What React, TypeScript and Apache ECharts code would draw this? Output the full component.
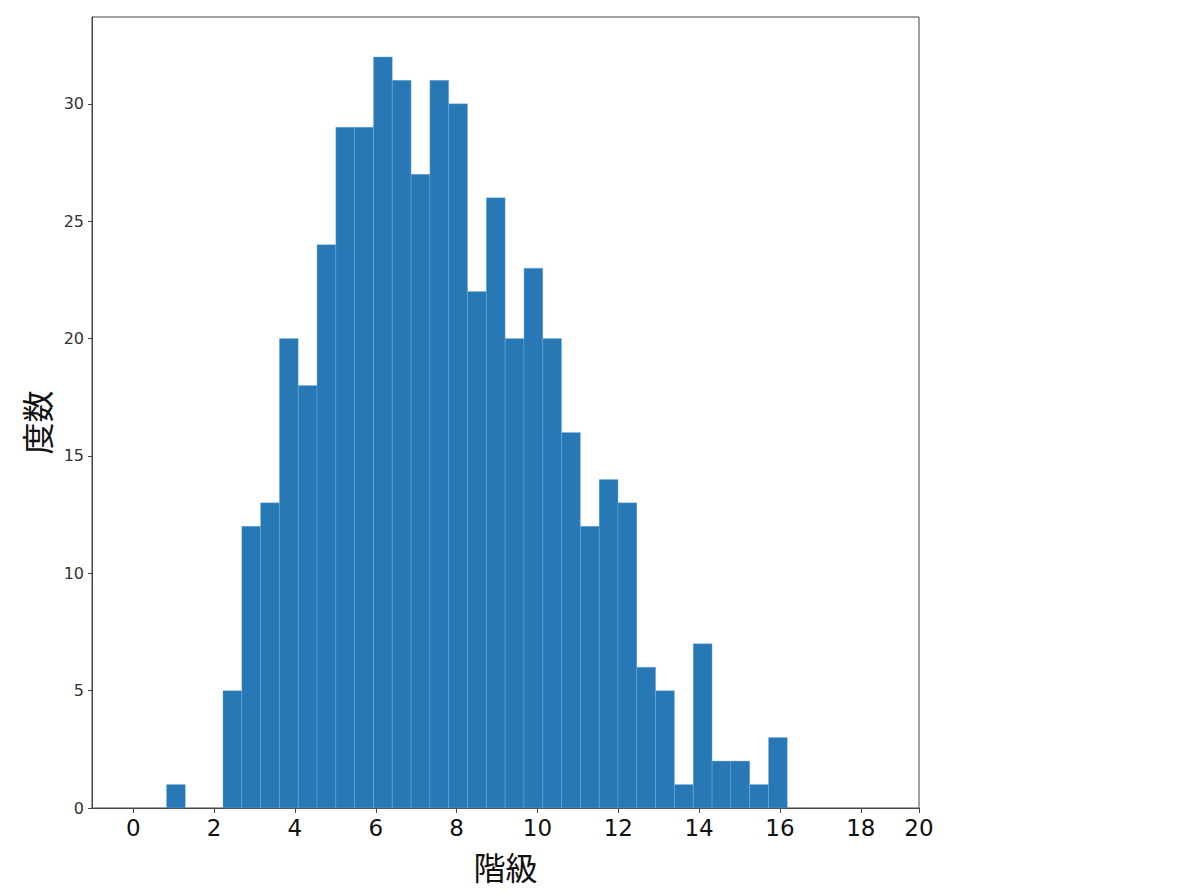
import React, { useEffect, useRef } from "react";
import * as echarts from "echarts";

// Histogram data: first bin left edge, bin width, and counts per bin
const binStart = 0.824;
const binWidth = 0.4654;
const counts = [
  1, 0, 0, 5, 12, 13, 20, 18, 24, 29, 29, 32, 31, 27, 31, 30, 22, 26, 20, 23,
  20, 16, 12, 14, 13, 6, 5, 1, 7, 2, 2, 1, 3,
];
const xTicks = [0, 2, 4, 6, 8, 10, 12, 14, 16, 18];
const xMin = -1.02;
const xMax = 19.44;
const xMaxLabel = "20";
const yTicks = [0, 5, 10, 15, 20, 25, 30];
const yMax = 33.7;
const xTitle = "階級";
const yTitle = "度数";

export default function App() {
  const ref = useRef<HTMLDivElement>(null);
  useEffect(() => {
    if (!ref.current) return;
    const chart = echarts.init(ref.current, undefined, { renderer: "svg" });
    const data = counts.map((c, i) => [
      binStart + i * binWidth,
      binStart + (i + 1) * binWidth,
      c,
    ]);
    chart.setOption({
      animation: false,
      backgroundColor: "#ffffff",
      grid: {
        left: 92,
        right: 281,
        top: 17,
        bottom: 88,
        show: true,
        borderColor: "#444",
        borderWidth: 1,
        containLabel: false,
      },
      xAxis: {
        type: "value",
        min: xMin,
        max: xMax,
        name: xTitle,
        nameLocation: "middle",
        nameGap: 42,
        nameTextStyle: {
          fontFamily: "Noto Sans CJK JP",
          fontSize: 32,
          color: "#111",
        },
        splitLine: { show: false },
        axisLine: { show: true, onZero: false, lineStyle: { color: "#444", width: 1 } },
        axisTick: {
          show: true,
          length: 5,
          customValues: [...xTicks, xMax],
          lineStyle: { color: "#444" },
        },
        axisLabel: {
          customValues: [...xTicks, xMax],
          formatter: (v: number) => (v > 19 ? xMaxLabel : String(v)),
          fontFamily: "DejaVu Sans",
          fontSize: 23,
          color: "#111",
          margin: 8,
        },
      },
      yAxis: {
        type: "value",
        min: 0,
        max: yMax,
        name: yTitle,
        nameLocation: "middle",
        nameGap: 40,
        nameRotate: 90,
        nameTextStyle: {
          fontFamily: "Noto Sans CJK JP",
          fontSize: 32,
          color: "#111",
          padding: [0, 20, 0, 0],
        },
        splitLine: { show: false },
        axisLine: { show: true, onZero: false, lineStyle: { color: "#444", width: 1 } },
        axisTick: {
          show: true,
          length: 4,
          customValues: yTicks,
          lineStyle: { color: "#444" },
        },
        axisLabel: {
          customValues: yTicks,
          fontFamily: "DejaVu Sans",
          fontSize: 16,
          color: "#333",
          margin: 8,
        },
      },
      series: [
        {
          type: "custom",
          encode: { x: [0, 1], y: 2 },
          data,
          renderItem: (params: any, api: any) => {
            const x0 = api.value(0);
            const x1 = api.value(1);
            const y = api.value(2);
            if (!y) return null;
            const p0 = api.coord([x0, y]);
            const p1 = api.coord([x1, 0]);
            return {
              type: "rect",
              shape: {
                x: p0[0],
                y: p0[1],
                width: p1[0] - p0[0],
                height: p1[1] - p0[1],
              },
              style: {
                fill: "#2778b4",
                stroke: "rgba(120,180,230,0.55)",
                lineWidth: 0.7,
              },
            };
          },
        },
      ],
    });
    return () => chart.dispose();
  }, []);
  return (
    <div
      ref={ref}
      style={{ position: "fixed", left: 0, top: 0, width: 1200, height: 896 }}
    />
  );
}
